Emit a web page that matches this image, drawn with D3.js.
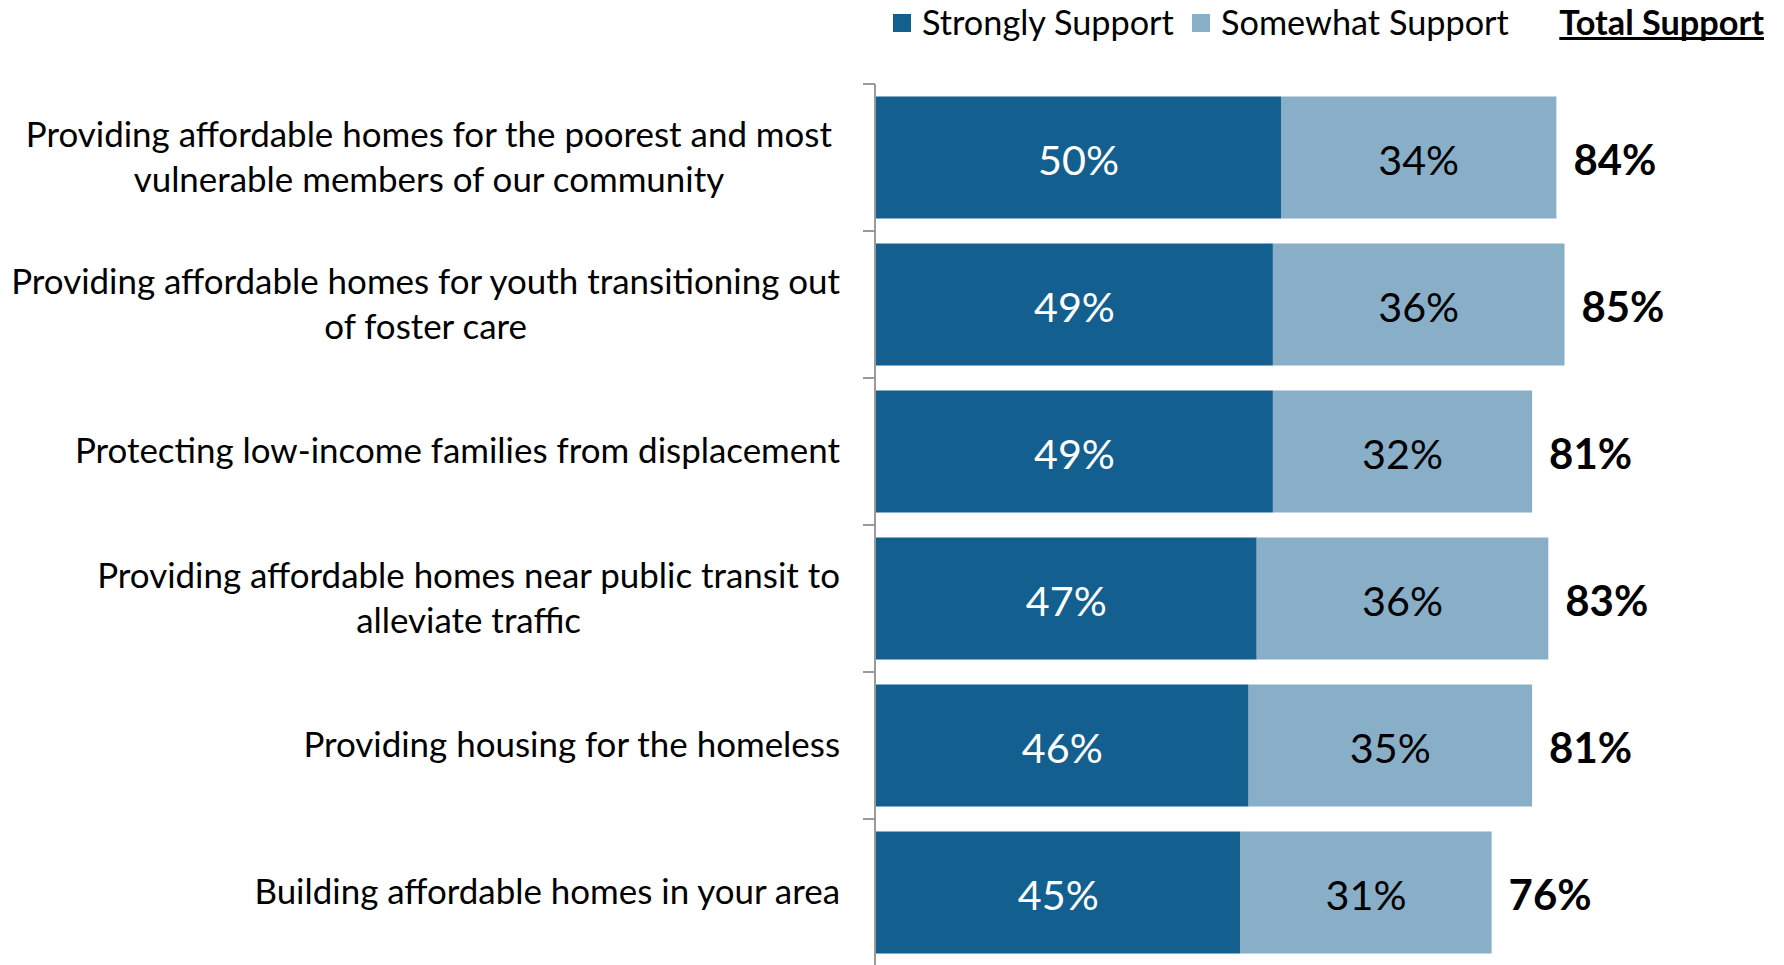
<!DOCTYPE html>
<html><head><meta charset="utf-8">
<script src="https://cdn.jsdelivr.net/npm/d3@7/dist/d3.min.js"></script>
<style>html,body{margin:0;padding:0;background:#fff;}svg{display:block;}</style>
</head><body>
<svg id="chart" width="1784" height="965"></svg>
<script>
const categories = [
  "Providing affordable homes for the poorest and most|vulnerable members of our community",
  "Providing affordable homes for youth transitioning out|of foster care",
  "Protecting low-income families from displacement",
  "Providing affordable homes near public transit to|alleviate traffic",
  "Providing housing for the homeless",
  "Building affordable homes in your area"
];
const strongly = [50, 49, 49, 47, 46, 45];
const somewhat = [34, 36, 32, 36, 35, 31];
const total = [84, 85, 81, 83, 81, 76];
const seriesNames = ["Strongly Support", "Somewhat Support"];
const totalHeader = "Total Support";

const FONT = "Lato, 'Open Sans', sans-serif";
const DARK = "#135F90", LIGHT = "#89AFC8";
const svg = d3.select("#chart");

function measure(text, weight, size) {
  const t = svg.append("text").attr("font-family", FONT).attr("font-weight", weight)
    .attr("font-size", size).text(text);
  const w = t.node().getComputedTextLength();
  t.remove();
  return w;
}
function fit(text, weight, target) { return 100 * target / measure(text, weight, 100); }

const labelSize = fit("Providing affordable homes for youth transitioning out", 400, 829);
const valueSize = fit("50%", 400, 81);
const totalSize = fit("84%", 700, 83);
const legendSize = fit("Strongly Support", 400, 252);

const x = d3.scaleLinear().domain([0, 100]).range([876, 1686]);
const y = d3.scaleBand().domain(categories).range([84, 966]).paddingInner(0.17).paddingOuter(0.085);

const rows = categories.map((c, i) => ({ c, s: strongly[i], m: somewhat[i], t: total[i] }));

// axis
const axisX = 875;
const y0 = y.range()[0], step = y.step();
const ax = svg.append("g").attr("stroke", "#9a9a9a").attr("stroke-width", 2);
ax.append("line").attr("x1", axisX).attr("x2", axisX).attr("y1", y0).attr("y2", y.range()[1]);
d3.range(categories.length + 1).forEach(i => {
  ax.append("line").attr("x1", axisX - 12).attr("x2", axisX).attr("y1", y0 + i * step).attr("y2", y0 + i * step);
});

const g = svg.append("g");
const row = g.selectAll("g.row").data(rows).join("g").attr("class", "row");
row.append("rect").attr("x", x(0)).attr("y", d => y(d.c)).attr("width", d => x(d.s) - x(0))
  .attr("height", y.bandwidth()).attr("fill", DARK);
row.append("rect").attr("x", d => x(d.s)).attr("y", d => y(d.c)).attr("width", d => x(d.s + d.m) - x(d.s))
  .attr("height", y.bandwidth()).attr("fill", LIGHT);

const cy = d => y(d.c) + y.bandwidth() / 2;
row.append("text").attr("x", d => (x(0) + x(d.s)) / 2).attr("y", cy).attr("dy", "0.42em")
  .attr("text-anchor", "middle").attr("font-family", FONT).attr("font-size", valueSize)
  .attr("fill", "#fff").text(d => d.s + "%");
row.append("text").attr("x", d => (x(d.s) + x(d.s + d.m)) / 2).attr("y", cy).attr("dy", "0.42em")
  .attr("text-anchor", "middle").attr("font-family", FONT).attr("font-size", valueSize)
  .attr("fill", "#000").text(d => d.m + "%");
row.append("text").attr("x", d => x(d.s + d.m) + 17).attr("y", cy).attr("dy", "0.42em")
  .attr("font-family", FONT).attr("font-weight", 700).attr("font-size", totalSize)
  .attr("fill", "#000").text(d => d.t + "%");

// category labels (block right-aligned, lines centered)
const labelRight = 840, lineH = 45.5;
rows.forEach((d, i) => {
  const lines = d.c.split("|");
  const maxW = d3.max(lines, l => measure(l, 400, labelSize));
  const right = i === 0 ? labelRight - 8 : labelRight;
  const cx = right - maxW / 2;
  const top = cy(d) - (lines.length - 1) * lineH / 2;
  lines.forEach((l, j) => {
    g.append("text").attr("x", cx).attr("y", top + j * lineH).attr("dy", "0.34em")
      .attr("text-anchor", "middle").attr("font-family", FONT).attr("font-size", labelSize)
      .attr("fill", "#000").text(l);
  });
});

// legend
const lg = svg.append("g");
const legY = 23;
const legItems = [{ n: seriesNames[0], c: DARK, x: 893 }, { n: seriesNames[1], c: LIGHT, x: 1192 }];
legItems.forEach(it => {
  lg.append("rect").attr("x", it.x).attr("y", legY - 9).attr("width", 18).attr("height", 18).attr("fill", it.c);
  lg.append("text").attr("x", it.x + 29).attr("y", legY).attr("dy", "0.36em")
    .attr("font-family", FONT).attr("font-size", legendSize).attr("fill", "#000").text(it.n);
});
const th = lg.append("text").attr("x", 1764).attr("y", legY).attr("dy", "0.36em").attr("text-anchor", "end")
  .attr("font-family", FONT).attr("font-weight", 700).attr("font-size", legendSize).attr("fill", "#000").text(totalHeader);
const thw = th.node().getComputedTextLength();
lg.append("rect").attr("x", 1764 - thw).attr("y", 37).attr("width", thw).attr("height", 3).attr("fill", "#000");
</script>
</body></html>
